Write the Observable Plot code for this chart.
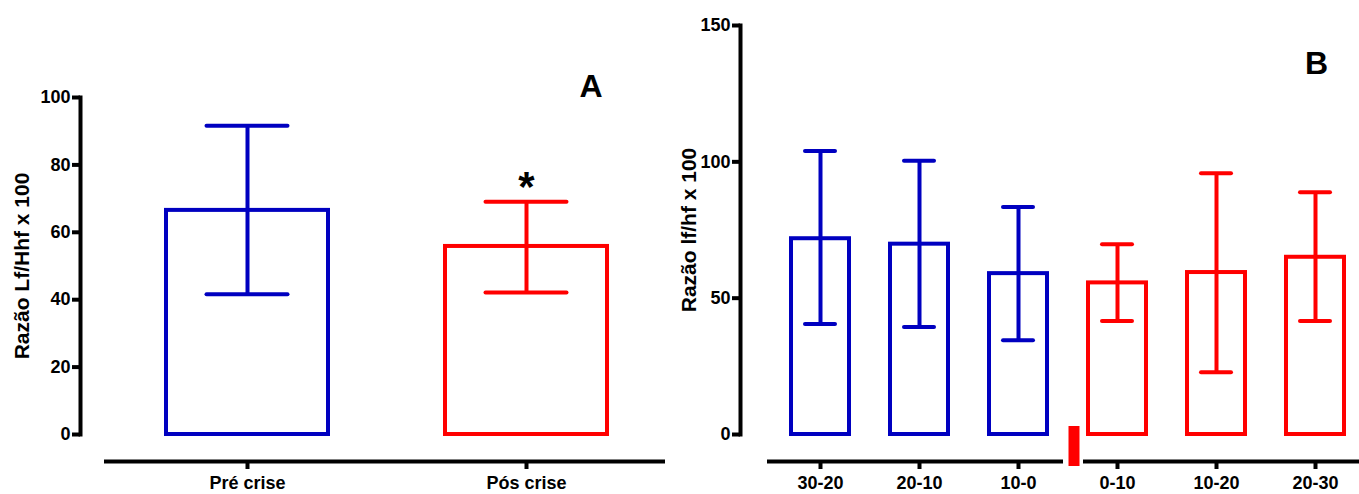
<!DOCTYPE html>
<html>
<head>
<meta charset="utf-8">
<script src="https://cdn.jsdelivr.net/npm/d3@7"></script>
<script src="https://cdn.jsdelivr.net/npm/@observablehq/plot@0.6"></script>
<style>
  html, body { margin: 0; padding: 0; background: #fff; }
  #wrap { position: relative; width: 1359px; height: 494px; overflow: hidden; }
  #wrap > div { position: absolute; top: 0; }
</style>
</head>
<body>
<div id="wrap"><div id="pa" style="left:0px"></div><div id="pb" style="left:670px"></div></div>
<script>
// ---- Panel A data ----
const catsA = ["Pré crise", "Pós crise"];
const meanA = [66.5, 55.8];
const upperA = [91.6, 69.1];
const lowerA = [41.6, 42.1];
const colorsA = ["#0000C0", "#FF0000"];
const ticksA = [0, 20, 40, 60, 80, 100];
const labelA = "Razão Lf/Hhf x 100";

// ---- Panel B data ----
const catsB = ["30-20", "20-10", "10-0", "0-10", "10-20", "20-30"];
const meanB = [71.8, 69.8, 59.0, 55.6, 59.4, 65.0];
const upperB = [104.0, 100.4, 83.4, 69.8, 95.8, 88.8];
const lowerB = [40.5, 39.4, 34.6, 41.6, 22.8, 41.6];
const colorsB = ["#0000C0", "#0000C0", "#0000C0", "#FF0000", "#FF0000", "#FF0000"];
const ticksB = [0, 50, 100, 150];
const labelB = "Razão lf/hf x 100";

const font = "'Liberation Sans', Arial, Helvetica, sans-serif";

const dataA = catsA.map((c, i) => ({cat: c, mean: meanA[i], hi: upperA[i], lo: lowerA[i], color: colorsA[i]}));
const dataB = catsB.map((c, i) => ({cat: c, mean: meanB[i], hi: upperB[i], lo: lowerB[i], color: colorsB[i]}));

const axisStyle = {strokeWidth: 4, fontSize: 18, fontWeight: "bold", label: null};

function errorMarks(data, capInset) {
  return [
    Plot.barY(data, {x: "cat", y: "mean", fill: "none", stroke: "color", strokeWidth: 4}),
    Plot.ruleX(data, {x: "cat", y1: "lo", y2: "hi", stroke: "color", strokeWidth: 4}),
    Plot.tickY(data, {x: "cat", y: "hi", stroke: "color", strokeWidth: 4, strokeLinecap: "round", insetLeft: capInset, insetRight: capInset}),
    Plot.tickY(data, {x: "cat", y: "lo", stroke: "color", strokeWidth: 4, strokeLinecap: "round", insetLeft: capInset, insetRight: capInset})
  ];
}

const plotA = Plot.plot({
  width: 670, height: 494,
  marginLeft: 80, marginRight: 5, marginTop: 97, marginBottom: 60,
  style: {fontFamily: font, background: "white", color: "black"},
  x: {type: "band", domain: catsA, range: [106, 666], paddingInner: 0.421, paddingOuter: 0.2107, align: 0.5},
  y: {domain: [0, 100]},
  color: {type: "identity"},
  marks: [
    ...errorMarks(dataA, 40.5),
    Plot.frame({anchor: "left", strokeWidth: 4}),
    Plot.axisY({...axisStyle, ticks: ticksA, tickSize: 8, tickPadding: 2}),
    Plot.ruleY([0], {dy: 27, insetLeft: 24, strokeWidth: 4}),
    Plot.axisX({...axisStyle, tickSize: 8, tickPadding: 7, dy: 27}),
    Plot.text([labelA], {frameAnchor: "left", rotate: -90, dx: -58, textAnchor: "middle", lineAnchor: "middle", fontSize: 21, fontWeight: "bold"}),
    Plot.text(["A"], {frameAnchor: "top-right", dx: -74.5, dy: -10.5, textAnchor: "middle", lineAnchor: "middle", fontSize: 32, fontWeight: "bold"}),
    Plot.text(dataA.filter(d => d.cat === "Pós crise"), {x: "cat", y: "hi", text: () => "*", dy: -14.5, fontSize: 42, fontWeight: "bold"})
  ]
});
document.getElementById("pa").appendChild(plotA);

const plotB = Plot.plot({
  width: 689, height: 494,
  marginLeft: 70, marginRight: 0, marginTop: 25, marginBottom: 60,
  style: {fontFamily: font, background: "white", color: "black"},
  x: {type: "band", domain: catsB, range: [90.2, 703.8], paddingInner: 0.415, paddingOuter: 0.3, align: 0.5},
  y: {domain: [0, 150]},
  color: {type: "identity"},
  marks: [
    ...errorMarks(dataB, 14),
    Plot.frame({anchor: "left", strokeWidth: 4}),
    Plot.axisY({...axisStyle, ticks: ticksB, tickSize: 8, tickPadding: 2}),
    Plot.ruleY([0], {dy: 27, insetLeft: 27, insetRight: 296, strokeWidth: 4}),
    Plot.ruleY([0], {dy: 27, insetLeft: 343, insetRight: 0, strokeWidth: 4}),
    Plot.ruleX(["0-10"], {x: d => d, y1: 0, y2: 0, insetTop: -8, insetBottom: -32, dx: -43.5, stroke: "#FF0000", strokeWidth: 11}),
    Plot.axisX({...axisStyle, tickSize: 8, tickPadding: 7, dy: 27}),
    Plot.text([labelB], {frameAnchor: "left", rotate: -90, dx: -51, textAnchor: "middle", lineAnchor: "middle", fontSize: 21, fontWeight: "bold"}),
    Plot.text(["B"], {frameAnchor: "top-right", dx: -43, dy: 38, textAnchor: "middle", lineAnchor: "middle", fontSize: 32, fontWeight: "bold"})
  ]
});
document.getElementById("pb").appendChild(plotB);
</script>
</body>
</html>
